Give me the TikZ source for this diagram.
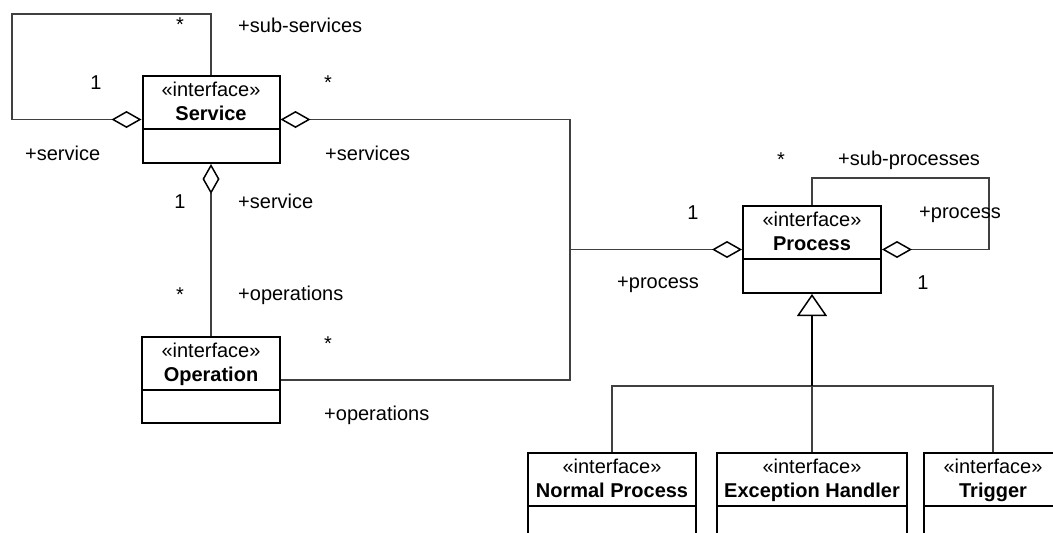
\documentclass[tikz,border=0pt]{standalone}
\usepackage{fontspec}
\setmainfont{Liberation Sans}
\usetikzlibrary{arrows.meta}

\tikzset{
  classbox/.style={draw=black, line width=2pt, fill=white, inner sep=0pt},
  divider/.style={draw=black, line width=2pt},
  stereo/.style={anchor=base, inner sep=0pt},
  cname/.style={anchor=base, inner sep=0pt, font=\fontsize{20}{24}\selectfont\bfseries},
  lbl/.style={anchor=base west, inner sep=0pt},
  mult/.style={anchor=base, inner sep=0pt},
  conn/.style={draw=black!75, line width=1.2pt},
  genstem/.style={draw=black, line width=2pt},
  agg/.tip={Diamond[length=30pt, width=17pt, fill=white, color=black, line width=1.5pt]},
  gen/.tip={Triangle[length=22pt, width=30pt, fill=white, color=black, line width=1.5pt]}
}

% #1 name, #2 centre x, #3 top y, #4 width, #5 height, #6 class name
\newcommand\umlclass[6]{%
  \node[classbox, minimum width=#4pt, minimum height=#5pt, anchor=north] (#1) at (#2,#3) {};
  \draw[divider] ([yshift=-54pt]#1.north west) -- ([yshift=-54pt]#1.north east);
  \node[stereo] (#1-st) at ([yshift=-21pt]#1.north) {«interface»};
  \node[cname] (#1-nm) at ([yshift=-45pt]#1.north) {#6};
}

\begin{document}
\begin{tikzpicture}[x=1pt, y=-1pt, font=\fontsize{20}{24}\selectfont]
\useasboundingbox (0,0) rectangle (1053,533);
\clip (0,0) rectangle (1053,533);

% classes
\umlclass{service}{211}{75}{137}{87}{Service}
\umlclass{operation}{211}{336}{138}{86}{Operation}
\umlclass{process}{812}{205}{138}{87}{Process}
\umlclass{normal}{612}{452}{168}{110}{Normal Process}
\umlclass{exception}{812}{452}{190}{110}{Exception Handler}
\umlclass{trigger}{993}{452}{138}{110}{Trigger}

% junction points
\coordinate (jn) at (process.west -| 570,0);
\coordinate (gj) at (process.south |- 0,386);

% Service self-aggregation (sub-services)
\draw[conn, -{agg}] (service.north) |- (12,14) |- (service.west);

% Service -- Operation
\draw[conn, {agg}-] (service.south) -- (operation.north);

% Service and Operation -- Process
\draw[conn, {agg}-] (service.east) -| (jn);
\draw[conn] (operation.east) -| (jn);
\draw[conn, -{agg}] (jn) -- (process.west);

% Process self-aggregation (sub-processes)
\draw[conn, -{agg}] (process.north) |- (989,178) |- (process.east);

% generalisation tree
\draw[conn] (normal.north) |- (gj) -| (trigger.north);
\draw[conn] (exception.north) -- (gj);
\draw[genstem, -{gen}] (gj) -- (process.south);

% role names and multiplicities
\node[mult] (m1) at (180,31) {*};
\node[lbl] (r1) at (238,32) {+sub-services};
\node[mult] (m2) at (96,89) {1};
\node[lbl] (r2) at (25,160) {+service};
\node[mult] (m3) at (328,89) {*};
\node[lbl] (r3) at (325,160) {+services};
\node[mult] (m4) at (180,208) {1};
\node[lbl] (r4) at (238,208) {+service};
\node[mult] (m5) at (180,301) {*};
\node[lbl] (r5) at (238,300) {+operations};
\node[mult] (m6) at (328,350) {*};
\node[lbl] (r6) at (324,420) {+operations};
\node[mult] (m7) at (781,166) {*};
\node[lbl] (r7) at (838,165) {+sub-processes};
\node[mult] (m8) at (693,219) {1};
\node[lbl] (r8) at (919,218) {+process};
\node[lbl] (r9) at (617,288) {+process};
\node[mult] (m9) at (923,289) {1};
\end{tikzpicture}
\end{document}
